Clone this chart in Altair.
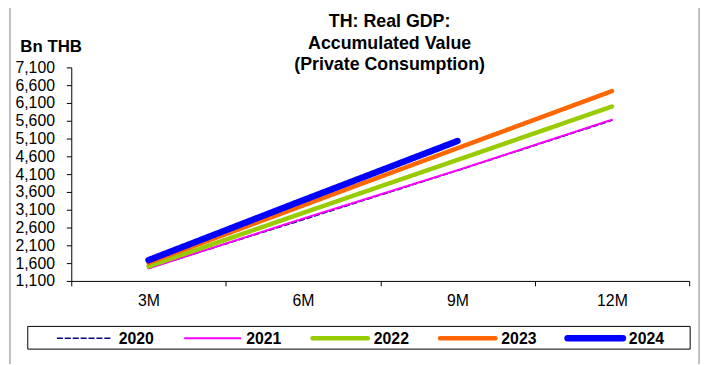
import altair as alt
import pandas as pd

months = ["3M", "6M", "9M", "12M"]
years = ["2020", "2021", "2022", "2023", "2024"]
v2020 = [1458, 2820, 4200, 5610]
v2021 = [1452, 2850, 4210, 5630]
v2022 = [1508, 3010, 4500, 6000]
v2023 = [1608, 3220, 4830, 6433]
v2024 = [1683, 3365, 5030]
colors = ["#000080", "#FF00FF", "#99CC00", "#FF6600", "#0000FF"]
widths = [1.5, 2, 4.5, 4.5, 6.5]
dashes = [[5, 3], [1, 0], [1, 0], [1, 0], [1, 0]]
y_ticks = list(range(1100, 7101, 500))
title_lines = ["TH: Real GDP:", "Accumulated Value", "(Private Consumption)"]

series = [v2020, v2021, v2022, v2023, v2024]
rows = []
for yr, vals in zip(years, series):
    for m, v in zip(months, vals):
        rows.append({"month": m, "year": yr, "value": v})
df = pd.DataFrame(rows)

FONT = "Liberation Sans, Arial"

color_enc = alt.Color("year:O", scale=alt.Scale(type="ordinal", domain=years, range=colors), legend=None)
width_enc = alt.StrokeWidth("year:O", scale=alt.Scale(type="ordinal", domain=years, range=widths), legend=None)
dash_enc = alt.StrokeDash("year:O", scale=alt.Scale(type="ordinal", domain=years, range=dashes), legend=None)

lines = alt.Chart(df).mark_line(strokeCap="round", clip=False).encode(
    x=alt.X("month:N", sort=months, bandPosition=0.5,
            scale=alt.Scale(type="band", paddingInner=0, paddingOuter=0),
            axis=alt.Axis(title=None, tickBand="extent", labelAngle=0,
                          labelFont=FONT, labelFontSize=16, labelColor="#000",
                          domainColor="#000", tickColor="#000", tickSize=5,
                          labelPadding=7, grid=False)),
    y=alt.Y("value:Q", scale=alt.Scale(domain=[1100, 7100], nice=False, zero=False),
            axis=alt.Axis(values=y_ticks, format=",.0f", grid=False,
                          labelFont=FONT, labelFontSize=16, labelColor="#000",
                          domainColor="#000", tickColor="#000", tickSize=5,
                          labelPadding=12,
                          title="Bn THB", titleAngle=0, titleX=-52, titleY=-16,
                          titleAlign="left", titleBaseline="alphabetic",
                          titleFont=FONT, titleFontSize=17, titleFontWeight="bold",
                          titleColor="#000")),
    color=color_enc,
    strokeWidth=width_enc,
    strokeDash=dash_enc,
    order=alt.Order("year:O"),
)

# manual legend (layout computed from item index)
leg_df = pd.DataFrame({"year": years, "idx": list(range(len(years)))})
leg_base = alt.Chart(leg_df).transform_calculate(
    x0="-14 + datum.idx * 129", x1="-14 + datum.idx * 129 + 56", xt="-14 + datum.idx * 129 + 62"
)
leg_lines = leg_base.mark_rule(strokeCap="round", clip=False).encode(
    x=alt.X("x0:Q", scale=None, axis=None), x2="x1:Q",
    y=alt.value(274),
    color=color_enc, strokeWidth=width_enc, strokeDash=dash_enc,
)
leg_text = leg_base.mark_text(
    font=FONT, fontSize=16, fontWeight="bold", color="#000", align="left",
    baseline="middle", clip=False
).encode(x=alt.X("xt:Q", scale=None, axis=None), y=alt.value(275), text="year:N")

box_df = pd.DataFrame({"k": [0]})
legend_box = alt.Chart(box_df).mark_rect(fill=None, stroke="#000", strokeWidth=1, clip=False).encode(
    x=alt.value(-44), x2=alt.value(626), y=alt.value(262), y2=alt.value(285)
)
frame_left = alt.Chart(box_df).mark_rule(color="#808080", strokeWidth=1, clip=False).encode(
    x=alt.value(-62), y=alt.value(-70), y2=alt.value(300)
)
frame_right = alt.Chart(box_df).mark_rule(color="#808080", strokeWidth=1, clip=False).encode(
    x=alt.value(635), y=alt.value(-70), y2=alt.value(300)
)
title_df = pd.DataFrame({"t": ["\n".join(title_lines)]})
title = alt.Chart(title_df).mark_text(
    font=FONT, fontSize=18, fontWeight="bold", color="#000", align="center",
    baseline="top", lineBreak="\n", lineHeight=22, clip=False
).encode(text="t:N", x=alt.value(322), y=alt.value(-55))

chart = alt.layer(frame_left, frame_right, legend_box, title, lines, leg_lines, leg_text).properties(
    width=625, height=216,
    autosize=alt.AutoSizeParams(type="none"),
    padding={"left": 64, "top": 58, "right": 15, "bottom": 83},
    background="white",
).resolve_scale(x="independent").configure_view(stroke=None)

chart.save("out.html", embed_options={"renderer": "svg", "actions": False})
